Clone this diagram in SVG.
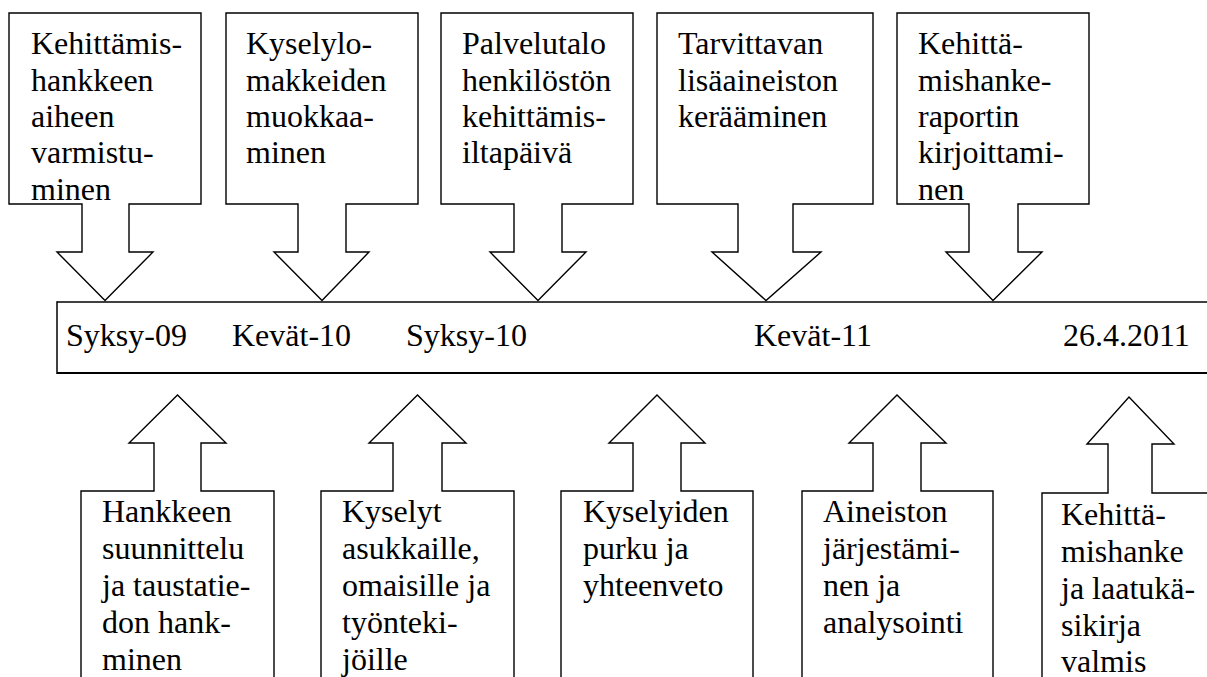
<svg xmlns="http://www.w3.org/2000/svg" width="1207" height="677" viewBox="0 0 1207 677">
  <style>
    .shape { fill: #ffffff; stroke: #000000; stroke-width: 1.4; stroke-linejoin: miter; }
    .line { fill: none; stroke: #000000; }
    .lbl { font-family: 'Liberation Serif', Tinos, 'Times New Roman', 'DejaVu Serif Condensed', 'DejaVu Serif', serif; font-size: 32px; fill: #000000; }
  </style>
  <rect x="0" y="0" width="1207" height="677" fill="#ffffff"/>

  <!-- timeline band -->
  <g id="timeline">
    <rect x="57" y="302" width="1170" height="71" fill="#ffffff" stroke="none"/>
    <path class="line" d="M57,302 H1207" stroke-width="1.5"/>
    <path class="line" d="M57,373 H1207" stroke-width="2.2"/>
    <path class="line" d="M57,301.3 V374" stroke-width="1.5"/>
    <g class="lbl">
      <text x="66" y="346">Syksy-09</text>
      <text x="232" y="346">Kevät-10</text>
      <text x="406" y="346">Syksy-10</text>
      <text x="754" y="346">Kevät-11</text>
      <text x="1063" y="346">26.4.2011</text>
    </g>
  </g>

  <!-- callouts above the timeline, pointing down -->
  <g id="top1">
    <path class="shape" d="M9,13 H201 V204 H129 V252 H153 L105,300.5 L57,252 H82 V204 H9 Z"/>
    <text class="lbl" x="31"><tspan x="31" y="54">Kehittämis-</tspan><tspan x="31" y="90.5">hankkeen</tspan><tspan x="31" y="127">aiheen</tspan><tspan x="31" y="163">varmistu-</tspan><tspan x="31" y="199.5">minen</tspan></text>
  </g>
  <g id="top2">
    <path class="shape" d="M226,13 H418 V204 H346 V252 H369 L322,300.5 L274,252 H298 V204 H226 Z"/>
    <text class="lbl" x="246"><tspan x="246" y="54">Kyselylo-</tspan><tspan x="246" y="90.5">makkeiden</tspan><tspan x="246" y="127">muokkaa-</tspan><tspan x="246" y="163">minen</tspan></text>
  </g>
  <g id="top3">
    <path class="shape" d="M441,13 H633 V204 H562 V252 H586 L538,300.5 L490,252 H514 V204 H441 Z"/>
    <text class="lbl" x="462"><tspan x="462" y="54">Palvelutalo</tspan><tspan x="462" y="90.5">henkilöstön</tspan><tspan x="462" y="127">kehittämis-</tspan><tspan x="462" y="163">iltapäivä</tspan></text>
  </g>
  <g id="top4">
    <path class="shape" d="M657,13 H873 V204 H793 V252 H821 L766,300.5 L712,252 H738 V204 H657 Z"/>
    <text class="lbl" x="678"><tspan x="678" y="54">Tarvittavan</tspan><tspan x="678" y="90.5">lisäaineiston</tspan><tspan x="678" y="127">kerääminen</tspan></text>
  </g>
  <g id="top5">
    <path class="shape" d="M897,13 H1089 V204 H1018 V252 H1042 L993,300.5 L946,252 H969 V204 H897 Z"/>
    <text class="lbl" x="918"><tspan x="918" y="54">Kehittä-</tspan><tspan x="918" y="90.5">mishanke-</tspan><tspan x="918" y="127">raportin</tspan><tspan x="918" y="163">kirjoittami-</tspan><tspan x="918" y="199.5">nen</tspan></text>
  </g>

  <!-- callouts below the timeline, pointing up -->
  <g id="bottom1">
    <path class="shape" d="M81,700 V491 H154 V443 H129 L177.5,395 L226,443 H201 V491 H274 V700"/>
    <text class="lbl" x="102"><tspan x="102" y="522">Hankkeen</tspan><tspan x="102" y="559">suunnittelu</tspan><tspan x="102" y="596">ja taustatie-</tspan><tspan x="102" y="633">don hank-</tspan><tspan x="102" y="670">minen</tspan></text>
  </g>
  <g id="bottom2">
    <path class="shape" d="M321,700 V491 H393 V443 H369 L417.5,395 L466,443 H442 V491 H514 V700"/>
    <text class="lbl" x="342"><tspan x="342" y="522">Kyselyt</tspan><tspan x="342" y="559">asukkaille,</tspan><tspan x="342" y="596">omaisille ja</tspan><tspan x="342" y="633">työnteki-</tspan><tspan x="342" y="670">jöille</tspan></text>
  </g>
  <g id="bottom3">
    <path class="shape" d="M561,700 V491 H633 V443 H609 L657,395 L705,443 H681 V491 H753 V700"/>
    <text class="lbl" x="583"><tspan x="583" y="522">Kyselyiden</tspan><tspan x="583" y="559">purku ja</tspan><tspan x="583" y="596">yhteenveto</tspan></text>
  </g>
  <g id="bottom4">
    <path class="shape" d="M802,700 V491 H873 V443 H849 L897,395 L946,443 H921 V491 H993 V700"/>
    <text class="lbl" x="823"><tspan x="823" y="522">Aineiston</tspan><tspan x="823" y="559">järjestämi-</tspan><tspan x="823" y="596">nen ja</tspan><tspan x="823" y="633">analysointi</tspan></text>
  </g>
  <g id="bottom5">
    <path class="shape" d="M1042,700 V493 H1108 V444 H1087 L1129,397 L1174,444 H1152 V493 H1240 V700"/>
    <text class="lbl" x="1061"><tspan x="1061" y="525">Kehittä-</tspan><tspan x="1061" y="562">mishanke</tspan><tspan x="1061" y="599">ja laatukä-</tspan><tspan x="1061" y="636">sikirja</tspan><tspan x="1061" y="672">valmis</tspan></text>
  </g>
</svg>
